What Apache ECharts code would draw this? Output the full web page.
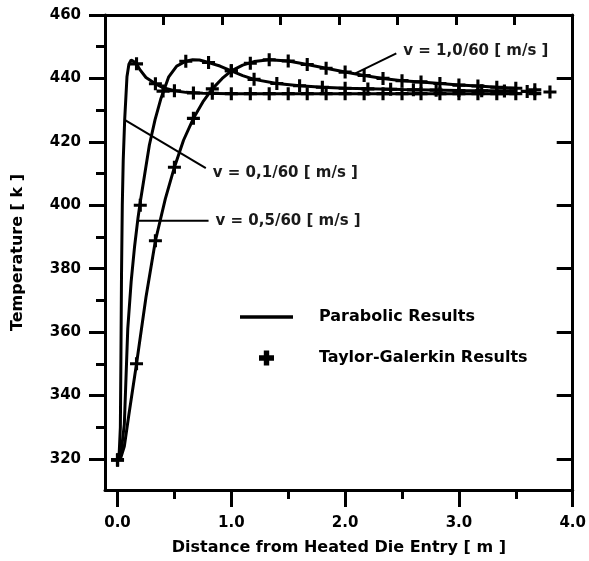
<!DOCTYPE html>
<html><head><meta charset="utf-8">
<script src="https://cdn.jsdelivr.net/npm/echarts@6/dist/echarts.min.js"></script>
<style>html,body{margin:0;padding:0;background:#fff}#c{width:589px;height:561px}</style>
</head><body><div id="c"></div>
<script>
// ---- tick values ----
const xTickLabels = [0, 1, 2, 3, 4];
const xMinorTicks = [0.5, 1.5, 2.5, 3.5];
const yTickLabels = [320, 340, 360, 380, 400, 420, 440, 460];
const yMinorTicks = [330, 350, 370, 390, 410, 430, 450];

// ---- Parabolic results (lines) ----
const lineX_v01 = [0.0, 0.015, 0.025, 0.03, 0.035, 0.042, 0.05, 0.063, 0.083, 0.1, 0.12, 0.14, 0.167, 0.2, 0.25, 0.333, 0.4, 0.5, 0.6, 0.75, 1.0, 1.5, 2.0, 2.5, 3.0, 3.5];
const lineT_v01 = [319.5, 322, 330, 352, 378, 400, 414, 427, 440.5, 444.5, 445.8, 445.4, 444.5, 442.6, 440.3, 438.3, 437.1, 436.1, 435.6, 435.3, 435.2, 435.2, 435.2, 435.2, 435.2, 435.2];

const lineX_v05 = [0.0, 0.03, 0.06, 0.09, 0.12, 0.15, 0.18, 0.2, 0.24, 0.28, 0.33, 0.38, 0.45, 0.52, 0.6, 0.66, 0.72, 0.8, 0.9, 1.0, 1.1, 1.2, 1.4, 1.6, 1.8, 2.0, 2.5, 3.0, 3.5];
const lineT_v05 = [319.5, 321.5, 331, 361, 376, 387, 396, 401, 410, 419, 427, 433.5, 440.5, 443.9, 445.4, 445.9, 445.8, 445.0, 443.9, 442.4, 440.9, 439.7, 438.4, 437.7, 437.2, 436.9, 436.5, 436.2, 436.0];

const lineX_v10 = [0.0, 0.03, 0.06, 0.1, 0.167, 0.25, 0.333, 0.42, 0.5, 0.58, 0.667, 0.75, 0.833, 0.92, 1.0, 1.1, 1.2, 1.333, 1.5, 1.667, 1.833, 2.0, 2.167, 2.333, 2.5, 2.667, 2.833, 3.0, 3.167, 3.333, 3.5];
const lineT_v10 = [319.5, 320.5, 324, 334, 350, 371, 388.8, 402, 412, 420.5, 427.4, 432.6, 436.7, 440, 442.4, 444.2, 445.3, 445.9, 445.5, 444.4, 443.2, 442.0, 440.9, 440.0, 439.3, 438.9, 438.4, 437.9, 437.6, 437.2, 436.9];

// ---- Taylor-Galerkin results (markers) ----
const markX_v01 = [0, 0.167, 0.333, 0.5, 0.667, 0.833, 1.0, 1.167, 1.333, 1.5, 1.667, 1.833, 2.0, 2.167, 2.333, 2.5, 2.667, 2.833, 3.0, 3.167, 3.333, 3.5, 3.667];
const markT_v01 = [319.7, 444.6, 438.3, 436.1, 435.4, 435.3, 435.2, 435.2, 435.2, 435.2, 435.2, 435.2, 435.2, 435.2, 435.2, 435.2, 435.2, 435.2, 435.2, 435.2, 435.2, 435.2, 435.2];

const markX_v05 = [0, 0.2, 0.4, 0.6, 0.8, 1.0, 1.2, 1.4, 1.6, 1.8, 2.0, 2.2, 2.4, 2.6, 2.8, 3.0, 3.2, 3.4, 3.6, 3.8];
const markT_v05 = [319.7, 400, 436, 445.4, 445.0, 442.4, 439.7, 438.4, 437.7, 437.2, 436.9, 436.7, 436.6, 436.4, 436.3, 436.2, 436.1, 436.0, 435.9, 435.7];

const markX_v10 = [0, 0.167, 0.333, 0.5, 0.667, 0.833, 1.0, 1.167, 1.333, 1.5, 1.667, 1.833, 2.0, 2.167, 2.333, 2.5, 2.667, 2.833, 3.0, 3.167, 3.333, 3.5, 3.667];
const markT_v10 = [319.7, 350, 388.8, 412, 427.4, 436.7, 442.4, 444.8, 445.9, 445.5, 444.4, 443.2, 442.0, 440.9, 440.0, 439.3, 438.9, 438.4, 437.9, 437.6, 437.2, 436.9, 436.4];

// ---- annotations ----
const annotTexts = ['v = 0,1/60 [ m/s ]', 'v = 0,5/60 [ m/s ]', 'v = 1,0/60 [ m/s ]'];
const annotFrom = [[0.063, 426.9], [0.179, 395.1], [2.09, 441.6]];
const annotTo = [[0.776, 411.7], [0.80, 395.1], [2.45, 447.9]];

const FONT = 'DejaVu Sans';
const zip = (xs, ys) => xs.map((x, i) => [x, ys[i]]);
const plusPath = 'path://M38,0H62V38H100V62H62V100H38V62H0V38H38Z';
const plusLegend = 'path://M32,0H68V32H100V68H68V100H32V68H0V32H32Z';
const barLegend = 'path://M0,0H106V7H0Z';
const black = { color: '#000', width: 3 };

const lineSeries = [[lineX_v01, lineT_v01], [lineX_v05, lineT_v05], [lineX_v10, lineT_v10]].map(([xs, ys]) => ({
  name: 'Parabolic Results', type: 'line', xAxisIndex: 0, yAxisIndex: 0,
  data: zip(xs, ys), symbol: 'none', showSymbol: false, smooth: false, silent: true,
  lineStyle: { color: '#000', width: 3 }, itemStyle: { color: '#000' }, z: 3
}));
const markSeries = [[markX_v01, markT_v01], [markX_v05, markT_v05], [markX_v10, markT_v10]].map(([xs, ys]) => ({
  name: 'Taylor-Galerkin Results', type: 'scatter', xAxisIndex: 0, yAxisIndex: 0,
  data: zip(xs, ys), symbol: plusPath, symbolSize: 13, silent: true,
  itemStyle: { color: '#000', opacity: 1 }, z: 4
}));
const annotOffsets = [[0, 5], [0, 0], [0, -2]];
const annotSeries = annotTexts.map((t, i) => ({
  name: 'annot' + i, type: 'line', xAxisIndex: 0, yAxisIndex: 0,
  data: [annotFrom[i], annotTo[i]], symbol: 'none', silent: true,
  lineStyle: { color: '#000', width: 2 }, z: 2,
  endLabel: { show: true, formatter: t, distance: 7, offset: annotOffsets[i], color: '#1a1a1a', fontSize: 15, fontWeight: 'bold', fontFamily: FONT }
}));

const tickLbl = { fontSize: 15, fontWeight: 'bold', fontFamily: FONT, color: '#000' };
const nameTxt = { fontSize: 16, fontWeight: 'bold', fontFamily: FONT, color: '#000' };
const Y_MIN = 310.2, Y_MAX = 460, X_MIN = -0.11, X_MAX = 4.0;
// right frame axis: same span expressed in 20 K steps counted from 320 K
const R_MIN = (Y_MIN - 320) / 20, R_MAX = (Y_MAX - 320) / 20;

const option = {
  animation: false,
  backgroundColor: '#fff',
  grid: { left: 105, right: 11, top: 15, bottom: 71, containLabel: false },
  legend: {
    orient: 'vertical', left: 240, top: 309, padding: 0, itemWidth: 53, itemHeight: 15, itemGap: 25,
    selectedMode: false,
    data: [{ name: 'Parabolic Results', icon: barLegend }, { name: 'Taylor-Galerkin Results', icon: plusLegend }],
    itemStyle: { color: '#000', borderWidth: 0 },
    textStyle: Object.assign({ padding: [0, 0, 0, 21] }, nameTxt)
  },
  xAxis: [
    { type: 'value', position: 'bottom', min: X_MIN, max: X_MAX,
      axisLine: { onZero: false, lineStyle: black },
      axisTick: { show: true, inside: false, length: 17, customValues: xTickLabels, lineStyle: black },
      axisLabel: Object.assign({ customValues: xTickLabels, formatter: v => Number(v).toFixed(1), margin: 26 }, tickLbl),
      splitLine: { show: false },
      name: 'Distance from Heated Die Entry [ m ]', nameLocation: 'middle', nameGap: 50, nameTextStyle: nameTxt },
    { type: 'value', position: 'bottom', min: X_MIN, max: X_MAX,
      axisLine: { show: false, onZero: false },
      axisTick: { show: true, inside: false, length: 9, customValues: xMinorTicks, lineStyle: black },
      axisLabel: { show: false, customValues: xMinorTicks }, splitLine: { show: false } },
    { type: 'value', position: 'top', min: 0, max: 8, interval: 1,
      axisLine: { show: true, onZero: false, lineStyle: black },
      axisTick: { show: true, inside: true, length: 10, lineStyle: black },
      axisLabel: { show: false }, splitLine: { show: false } }
  ],
  yAxis: [
    { type: 'value', position: 'left', min: Y_MIN, max: Y_MAX,
      axisLine: { show: true, onZero: false, lineStyle: black },
      axisTick: { show: true, inside: false, length: 16, customValues: yTickLabels, lineStyle: black },
      axisLabel: Object.assign({ customValues: yTickLabels, margin: 24 }, tickLbl),
      splitLine: { show: false },
      name: 'Temperature [ k ]', nameLocation: 'middle', nameGap: 79, nameRotate: 90, nameTextStyle: nameTxt },
    { type: 'value', position: 'left', min: Y_MIN, max: Y_MAX,
      axisLine: { show: false, onZero: false },
      axisTick: { show: true, inside: false, length: 9, customValues: yMinorTicks, lineStyle: black },
      axisLabel: { show: false, customValues: yMinorTicks }, splitLine: { show: false } },
    { type: 'value', position: 'right', min: R_MIN, max: R_MAX, splitNumber: 8, minInterval: 1, maxInterval: 1,
      axisLine: { show: true, onZero: false, lineStyle: black },
      axisTick: { show: true, inside: true, length: 16, lineStyle: black },
      axisLabel: { show: false }, splitLine: { show: false } }
  ],
  series: [...lineSeries, ...markSeries, ...annotSeries]
};
const chart = echarts.init(document.getElementById('c'), null, { renderer: 'canvas' });
chart.setOption(option);
</script></body></html>
